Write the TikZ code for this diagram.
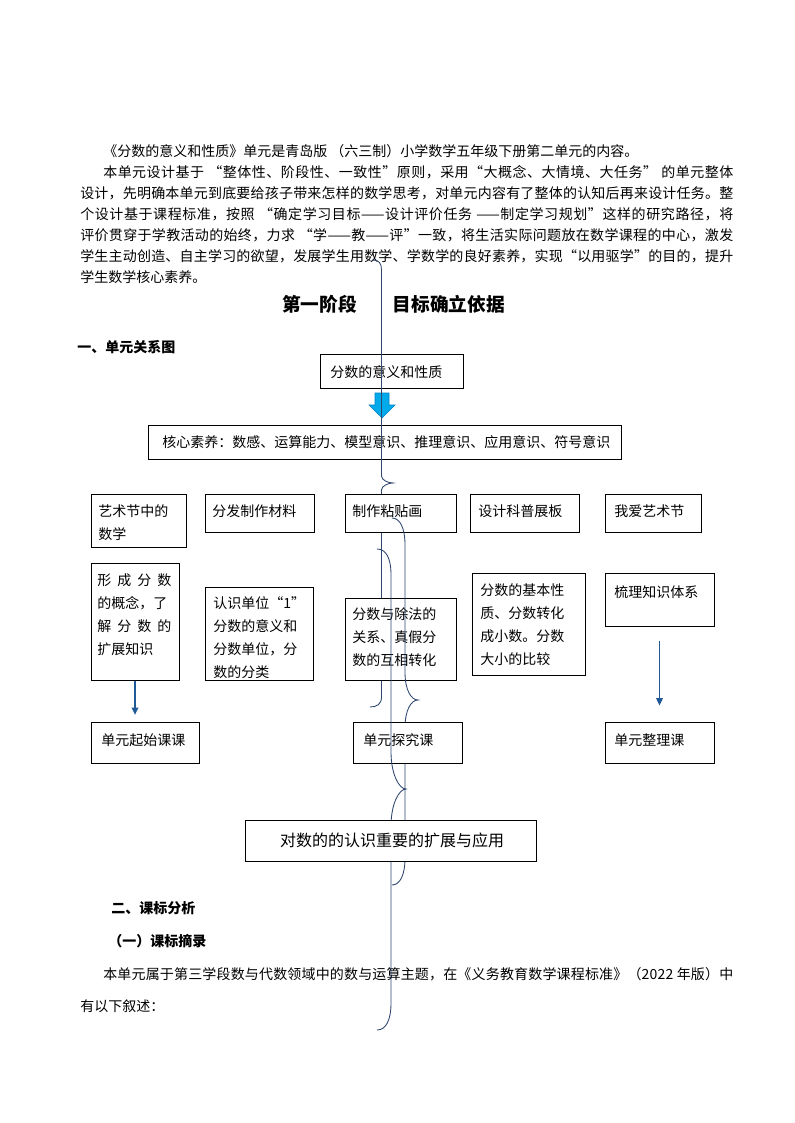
\documentclass[tikz,border=0pt]{standalone}
\usepackage{fontspec}
\setmainfont{Noto Sans CJK SC}
\usetikzlibrary{arrows.meta}
\definecolor{brc}{RGB}{48,72,112}
\definecolor{arrc}{RGB}{31,90,150}
\definecolor{blu}{RGB}{0,170,235}
\definecolor{bluedge}{RGB}{0,130,200}
\newcommand\bodyf{\fontsize{10.5pt}{15.75pt}\selectfont}
\newcommand\boxf{\fontsize{10.5pt}{17.25pt}\selectfont}
\def\endsprd{\endsprd}
\def\sprd#1{\ifx#1\endsprd\else\hskip 0pt plus 1fil #1\expandafter\sprd\fi}
\def\sprdstart#1{#1\sprd}
\newcommand\jl[2]{\makebox[#1pt][s]{\sprdstart #2\endsprd}}
\newcommand\dd{\mbox{——}}
\begin{document}
\begin{tikzpicture}[x=0.75pt,y=-0.75pt,
  boxst/.style={draw=black, line width=0.75pt, fill=white, inner sep=0pt},
  txt/.style={anchor=north west, inner sep=0pt, align=left, font=\boxf},
  para/.style={anchor=west, inner sep=0pt, font=\bodyf},
  head/.style={anchor=west, inner sep=0pt, font=\bodyf\bfseries},
  brace/.style={draw=brc, line width=0.65pt},
  arr/.style={draw=arrc, line width=0.9pt, -{Triangle[length=5.5pt,width=5pt]}}]
\newcommand\bbox[5]{\node[boxst, minimum width={(#4-#2)*0.75pt}, minimum height={(#5-#3)*0.75pt}] (#1) at ({(#2+#4)/2},{(#3+#5)/2}) {};}
\fill[white] (0,0) rectangle (794,1123);
\useasboundingbox (0,0) rectangle (794,1123);

% paragraph
\node[para] (p1) at (103,151) {《分数的意义和性质》单元是青岛版~（六三制）小学数学五年级下册第二单元的内容。};
\node[para] (p2) at (103,172) {\jl{472.5}{本单元设计基于~“整体性、阶段性、一致性”原则，采用“大概念、大情境、大任务”~的单元整体}};
\node[para] (p3) at (80,193) {\jl{489.75}{设计，先明确本单元到底要给孩子带来怎样的数学思考，对单元内容有了整体的认知后再来设计任务。整}};
\node[para] (p4) at (80,214) {\jl{489.75}{个设计基于课程标准，按照~“确定学习目标\dd 设计评价任务~\dd 制定学习规划”这样的研究路径，将}};
\node[para] (p5) at (80,235) {\jl{489.75}{评价贯穿于学教活动的始终，力求~“学\dd 教\dd 评”一致，将生活实际问题放在数学课程的中心，激发}};
\node[para] (p6) at (80,256) {\jl{489.75}{学生主动创造、自主学习的欲望，发展学生用数学、学数学的良好素养，实现“以用驱学”的目的，提升}};
\node[para] (p7) at (80,277) {学生数学核心素养。};

\node[anchor=west, inner sep=0pt, font=\fontsize{14pt}{17pt}\selectfont\bfseries] (title) at (282,304) {第一阶段\hspace{27pt}目标确立依据};
\node[head] (h1) at (77,347) {一、单元关系图};

% top boxes
\bbox{top}{320}{354}{463}{388}
\node[para] (topt) at (330,372) {分数的意义和性质};
\fill[blu, draw=bluedge, line width=0.4pt] (375,393) -- (389,393) -- (389,405) -- (395,405) -- (382,418) -- (369,405) -- (375,405) -- cycle;
\bbox{core}{148}{425}{621}{459}
\node[para] (coret) at (162,442) {核心素养：数感、运算能力、模型意识、推理意识、应用意识、符号意识};

% brace A
\draw[brace] (372,260) .. controls (379,260) and (381.5,263) .. (381.5,270) -- (381.5,476) .. controls (381.5,480) and (388,483) .. (393,483) .. controls (388,483) and (381.5,486) .. (381.5,490) -- (381.5,697) .. controls (381.5,704) and (377,707) .. (370,707);

% row 1
\bbox{ra}{91}{494}{186}{547}
\node[txt] (rat) at (98,504) {艺术节中的\\数学};
\bbox{rb}{205}{494}{314}{532}
\node[txt] (rbt) at (212,504) {分发制作材料};
\bbox{rc}{345}{494}{456}{532}
\node[txt] (rct) at (352,504) {制作粘贴画};
\bbox{rd}{470}{494}{579}{532}
\node[txt] (rdt) at (478,504) {设计科普展板};
\bbox{re}{605}{494}{701}{532}
\node[txt] (ret) at (614,504) {我爱艺术节};

% row 2
\bbox{xc}{91}{563}{179}{680}
\node[txt] (xct) at (97,573) {\makebox[55.5pt]{形\hfill 成\hfill 分\hfill 数}\\的概念，了\\\makebox[55.5pt]{解\hfill 分\hfill 数\hfill 的}\\扩展知识};
\bbox{rs}{205}{587}{313}{680}
\node[txt] (rst) at (213,596) {认识单位“1”\\分数的意义和\\分数单位，分\\数的分类};
\bbox{fc}{345}{598}{456}{680}
\node[txt] (fct) at (352,607) {分数与除法的\\关系、真假分\\数的互相转化};
\bbox{jb}{472}{573}{585}{675}
\node[txt] (jbt) at (480,583) {分数的基本性\\质、分数转化\\成小数。分数\\大小的比较};
\bbox{sl}{605}{573}{714}{626}
\node[txt] (slt) at (614,585) {梳理知识体系};

% brace C
\draw[brace] (392,518) .. controls (400,518) and (405,528) .. (405,545) -- (405,672) .. controls (405,690) and (411,700) .. (418,700) .. controls (411,700) and (405,710) .. (405,728) -- (405,858) .. controls (405,875) and (400,885) .. (392,885);

% row 3
\bbox{qs}{91}{722}{199}{763}
\node[txt] (qst) at (101,733) {单元起始课课};
\bbox{tj}{353}{722}{462}{763}
\node[txt] (tjt) at (363,733) {单元探究课};
\bbox{zl}{605}{722}{714}{763}
\node[txt] (zlt) at (614,733) {单元整理课};

\draw[arr, shorten >=5pt] (xc.south) -- (xc.south |- qs.north);
\draw[arr, shorten <=10.5pt, shorten >=12pt] (sl.south) -- (sl.south |- zl.north);

% lower text
\node[head] (h2) at (111,908) {二、课标分析};
\node[head] (h3) at (108,941) {（一）课标摘录};
\node[para] (q1) at (103,974) {\jl{472.5}{本单元属于第三学段数与代数领域中的数与运算主题，在《义务教育数学课程标准》（2022~年版）中}};
\node[para] (q2) at (80,1006) {有以下叙述：};

% brace B
\draw[brace] (377,549) .. controls (386,549) and (391,558) .. (391,575) -- (391,752) .. controls (391,774) and (399,789) .. (406,789) .. controls (399,789) and (391,804) .. (391,826) -- (391,1003) .. controls (391,1020) and (386,1030) .. (377,1030);

% bottom box
\bbox{ext}{245}{820}{536}{861}
\node[inner sep=0pt, font=\fontsize{12pt}{14pt}\selectfont] (extt) at (392,840) {对数的的认识重要的扩展与应用};
\end{tikzpicture}
\end{document}
